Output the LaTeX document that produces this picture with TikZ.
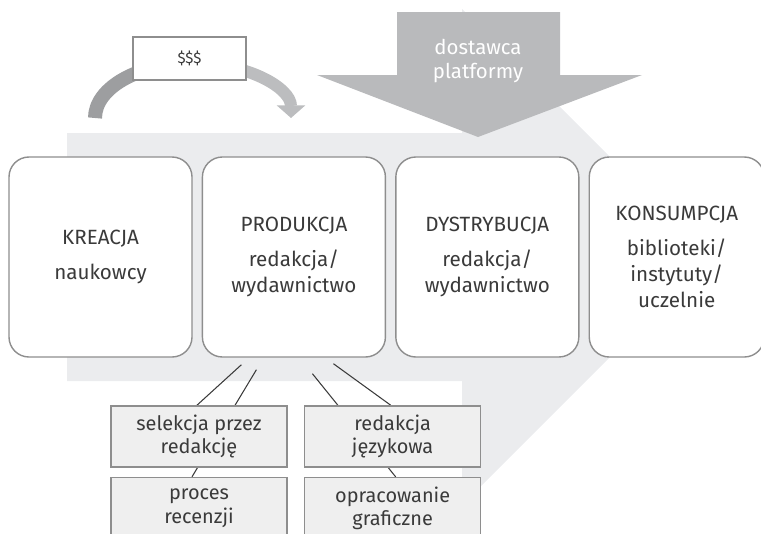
\documentclass[tikz,border=0pt]{standalone}
\usepackage{fontspec}
\setmainfont{Fira Sans}
\usepackage{tikz}
\usetikzlibrary{positioning, calc, arrows.meta, backgrounds}

\definecolor{chevgrey}{HTML}{EBECEE}
\definecolor{supplygrey}{HTML}{B9BABC}
\definecolor{framegrey}{HTML}{8E8E8E}
\definecolor{textgrey}{HTML}{3A3A3A}
\definecolor{payleft}{HTML}{9D9EA0}
\definecolor{payright}{HTML}{BCBDBF}
\definecolor{taskfill}{HTML}{EFEFEF}

\pgfdeclarelayer{links}
\pgfsetlayers{background,links,main}

\begin{document}
\begin{tikzpicture}[
        x=0.03cm, y=-0.03cm,
        stage/.style={
            rectangle,
            rounded corners=0.6cm,
            draw=framegrey,
            fill=white,
            line width=1.2pt,
            minimum width=5.49cm,
            minimum height=6cm,
            align=center,
            text=textgrey,
            font=\fontsize{17.6}{22}\selectfont
        },
        task/.style={
            rectangle,
            draw=framegrey,
            fill=taskfill,
            line width=1.4pt,
            minimum width=5.28cm,
            minimum height=1.83cm,
            align=center,
            text=textgrey,
            font=\fontsize{17}{19.8}\selectfont
        },
        link/.style={draw=textgrey, line width=0.9pt}
    ]

    \useasboundingbox (0,0) rectangle (761,533);
    \clip (0,0) rectangle (761,533);

    % big chevron behind the chain
    \begin{scope}[on background layer]
        \fill[chevgrey] (67,133) -- (462,133) -- (462,9) -- (710,257)
            -- (462,505) -- (462,381) -- (67,381) -- cycle;
    \end{scope}

    % platform supplier arrow
    \fill[supplygrey] (397,12) -- (560,12) -- (560,75) -- (642,75)
        -- (478,137) -- (317,75) -- (397,75) -- cycle;
    \node[text=white, align=center, font=\fontsize{17.4}{20.4}\selectfont] (supplier) at (478,61) {dostawca\\platformy};

    % money flow
    \coordinate (paystart) at (95,118);
    \coordinate (paytop) at (193,63);
    \draw[payleft, line width=0.42cm] (paystart) arc[start angle=180, end angle=90, x radius=2.94cm, y radius=1.65cm];
    \draw[payright, line width=0.36cm, -{Triangle[width=0.84cm, length=0.38cm]}] (paytop) arc[start angle=90, end angle=0, x radius=2.94cm, y radius=1.65cm];
    \node[draw=framegrey, fill=white, line width=1.2pt, minimum width=3.39cm, minimum height=1.29cm,
        text=textgrey, font=\fontsize{13}{16}\selectfont] (money) at (189.5,58.5) {\$\$\$};

    % stages
    \node[stage] (kreacja) at (100.5,257) {KREACJA\\[7.7pt]naukowcy};
    \node[stage, right=0.27cm of kreacja] (produkcja) {PRODUKCJA\\[7.7pt]redakcja/\\wydawnictwo};
    \node[stage, right=0.27cm of produkcja] (dystrybucja) {DYSTRYBUCJA\\[7.7pt]redakcja/\\wydawnictwo};
    \node[stage, right=0.27cm of dystrybucja, minimum width=5.25cm] (konsumpcja) {KONSUMPCJA\\[7.7pt]biblioteki/\\instytuty/\\uczelnie};

    % production tasks
    \node[task] (selekcja) at (199,436.5) {selekcja przez\\redakcję};
    \node[task, below=0.27cm of selekcja] (recenzja) {proces\\recenzji};
    \node[task, right=0.48cm of selekcja] (jezyk) {redakcja\\językowa};
    \node[task, below=0.27cm of jezyk] (grafika) {opracowanie\\graficzne};

    % links
    \coordinate (fanA) at ([xshift=-1.575cm, yshift=-0.21cm]produkcja.south);
    \coordinate (fanB) at ([xshift=-1.125cm, yshift=-0.36cm]produkcja.south);
    \coordinate (fanC) at ([xshift=0.555cm, yshift=-0.48cm]produkcja.south);
    \coordinate (fanD) at ([xshift=1.185cm, yshift=-0.18cm]produkcja.south);
    \begin{pgfonlayer}{links}
        \draw[link] (fanA) -- ([xshift=-0.06cm]selekcja.north);
        \draw[link] (fanB) -- ([xshift=-0.21cm]recenzja.north);
        \draw[link] (fanC) -- ([xshift=0.09cm]grafika.north);
        \draw[link] (fanD) -- ([xshift=-0.06cm]jezyk.north);
    \end{pgfonlayer}

\end{tikzpicture}
\end{document}
